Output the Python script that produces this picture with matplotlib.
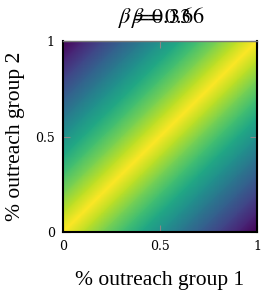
import numpy as np
import matplotlib
matplotlib.use("Agg")
import matplotlib.pyplot as plt
import matplotlib.tri as mtri

# grid of outreach shares (0..1) for group 1 (columns) and group 2 (rows)
outreach_1 = [0.0, 0.1, 0.2, 0.3, 0.4, 0.5, 0.6, 0.7, 0.8, 0.9, 1.0]
outreach_2 = [0.0, 0.1, 0.2, 0.3, 0.4, 0.5, 0.6, 0.7, 0.8, 0.9, 1.0]
# value (row = group 2, col = group 1)
score = [
    [1.0, 0.9, 0.8, 0.7, 0.6, 0.5, 0.4, 0.3, 0.2, 0.1, 0.0],
    [0.9, 1.0, 0.9, 0.8, 0.7, 0.6, 0.5, 0.4, 0.3, 0.2, 0.1],
    [0.8, 0.9, 1.0, 0.9, 0.8, 0.7, 0.6, 0.5, 0.4, 0.3, 0.2],
    [0.7, 0.8, 0.9, 1.0, 0.9, 0.8, 0.7, 0.6, 0.5, 0.4, 0.3],
    [0.6, 0.7, 0.8, 0.9, 1.0, 0.9, 0.8, 0.7, 0.6, 0.5, 0.4],
    [0.5, 0.6, 0.7, 0.8, 0.9, 1.0, 0.9, 0.8, 0.7, 0.6, 0.5],
    [0.4, 0.5, 0.6, 0.7, 0.8, 0.9, 1.0, 0.9, 0.8, 0.7, 0.6],
    [0.3, 0.4, 0.5, 0.6, 0.7, 0.8, 0.9, 1.0, 0.9, 0.8, 0.7],
    [0.2, 0.3, 0.4, 0.5, 0.6, 0.7, 0.8, 0.9, 1.0, 0.9, 0.8],
    [0.1, 0.2, 0.3, 0.4, 0.5, 0.6, 0.7, 0.8, 0.9, 1.0, 0.9],
    [0.0, 0.1, 0.2, 0.3, 0.4, 0.5, 0.6, 0.7, 0.8, 0.9, 1.0],
]
ticks = [0, 0.5, 1]
tick_labels = ["0", "0.5", "1"]
titles = [r"$\beta = 0.33$", r"$\beta = 0.66$"]

plt.rcParams["mathtext.fontset"] = "stix"

fig = plt.figure(figsize=(2.7, 3.0), dpi=100)
ax = fig.add_axes([63 / 270, 1 - 232 / 300, 194 / 270, 191 / 300])

# triangulate the grid, splitting every cell along its rising diagonal
nx, ny = len(outreach_1), len(outreach_2)
X, Y = np.meshgrid(outreach_1, outreach_2)
tris = []
for j in range(ny - 1):
    for i in range(nx - 1):
        a = j * nx + i
        b = a + 1
        c = a + nx
        d = c + 1
        tris.append([a, b, d])
        tris.append([a, d, c])
tri = mtri.Triangulation(X.ravel(), Y.ravel(), tris)
ax.tripcolor(tri, np.array(score).ravel(), cmap="viridis", shading="gouraud",
             vmin=0, vmax=1, rasterized=True)
ax.set_xlim(0, 1)
ax.set_ylim(0, 1)

ax.set_xticks(ticks)
ax.set_xticklabels(tick_labels, family="DejaVu Serif", fontsize=9)
ax.set_yticks(ticks)
ax.set_yticklabels(tick_labels, family="DejaVu Serif", fontsize=9)
ax.tick_params(direction="in", length=5, width=0.8, color="#888888",
               top=True, right=True, pad=6)
for s in ["bottom", "right", "left"]:
    ax.spines[s].set_color("black")
    ax.spines[s].set_linewidth(1.5)
ax.spines["top"].set_color("#777777")
ax.spines["top"].set_linewidth(1.0)

ax.set_xlabel("% outreach group 1", family="Liberation Serif", fontsize=15.5,
              labelpad=13)
ax.set_ylabel("% outreach group 2", family="Liberation Serif", fontsize=15.5,
              labelpad=7)

fig.text(118 / 270, 1 - 23 / 300, titles[0], fontsize=16, ha="left",
         va="baseline")
fig.text(131 / 270, 1 - 23 / 300, titles[1], fontsize=16, ha="left",
         va="baseline")

fig.savefig("out.png", dpi=100)
